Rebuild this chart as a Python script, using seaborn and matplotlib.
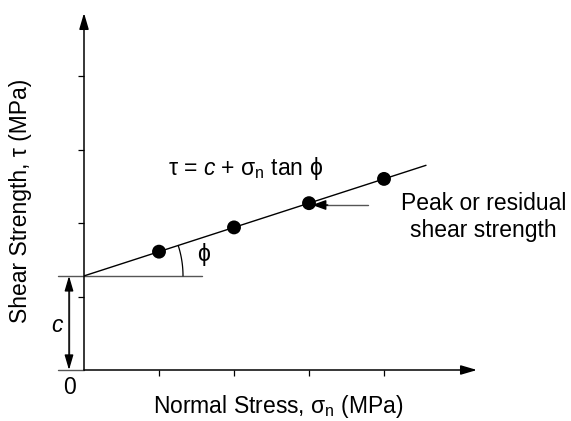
import numpy as np
import pandas as pd
import matplotlib
matplotlib.use("Agg")
import matplotlib.pyplot as plt
import seaborn as sns

# Mohr-Coulomb failure envelope: tau = c + sigma_n * tan(phi)
normal_stress = [1, 2, 3, 4]                  # sigma_n at each test
shear_strength = [1.61, 1.94, 2.27, 2.60]     # measured peak/residual tau
cohesion = 1.28                               # intercept c
tan_phi = 0.33                                # slope of the envelope
envelope_end = 4.56                           # sigma_n where the drawn envelope stops
tick_positions = [1, 2, 3, 4]

sns.set_theme(style="white")
plt.rcParams["font.family"] = ["Liberation Sans", "DejaVu Sans"]
plt.rcParams["text.color"] = "black"
plt.rcParams["mathtext.fontset"] = "custom"
plt.rcParams["mathtext.rm"] = "Liberation Sans"
plt.rcParams["mathtext.it"] = "Liberation Sans:italic"
plt.rcParams["mathtext.default"] = "regular"

W, H = 571, 421
fig = plt.figure(figsize=(W / 100, H / 100), dpi=100)

# pixel geometry of the axes
x0_px, y0_px = 84, 370
px_per_x, px_per_y = 75.0, 73.5
ax = fig.add_axes([x0_px / W, (H - y0_px) / H, (W - x0_px) / W, (y0_px - 5) / H])
ax.set_xlim(0, (W - x0_px) / px_per_x)
ax.set_ylim(0, (y0_px - 5) / px_per_y)
for s in ax.spines.values():
    s.set_visible(False)
ax.set_facecolor("none")

ax.set_xticks(tick_positions)
ax.set_yticks(tick_positions)
ax.set_xticklabels([])
ax.set_yticklabels([])
ax.tick_params(direction="out", length=4, width=0.9, color="black",
               bottom=True, left=True)

# axes drawn as arrows
arrow_kw = dict(arrowstyle="-|>,head_length=0.75,head_width=0.22", color="black",
                lw=1.1, mutation_scale=13, shrinkA=0, shrinkB=0)
ax.annotate("", xy=(5.24, 0), xytext=(0, 0), arrowprops=arrow_kw, annotation_clip=False)
ax.annotate("", xy=(0, (y0_px - 13) / px_per_y), xytext=(0, 0), arrowprops=arrow_kw,
            annotation_clip=False)

# failure envelope
env = pd.DataFrame({"sigma": [0, envelope_end]})
env["tau"] = cohesion + tan_phi * env["sigma"]
sns.lineplot(data=env, x="sigma", y="tau", color="black", lw=1.0, ax=ax, zorder=2)

# test results
pts = pd.DataFrame({"sigma": normal_stress, "tau": shear_strength})
sns.scatterplot(data=pts, x="sigma", y="tau", color="black", s=100, edgecolor="none",
                ax=ax, zorder=3, legend=False)
ax.set_xlabel("")
ax.set_ylabel("")

gray = "#555555"
# horizontal reference at the intercept, and the dimension line for c
x_dim_left = -26 / px_per_x
ax.plot([x_dim_left, 118 / px_per_x], [cohesion, cohesion], color=gray, lw=1.0,
        clip_on=False, zorder=1)
ax.plot([x_dim_left, 0], [0, 0], color=gray, lw=1.0, clip_on=False, zorder=1)
x_dim = -15 / px_per_x
dim_kw = dict(arrowstyle="<|-|>,head_length=0.75,head_width=0.22", color="black", lw=1.0,
              mutation_scale=12, shrinkA=0, shrinkB=0)
ax.annotate("", xy=(x_dim, 0), xytext=(x_dim, cohesion), arrowprops=dim_kw,
            annotation_clip=False)
ax.plot([x_dim, x_dim], [0.12, cohesion - 0.12], color=gray, lw=1.0, clip_on=False,
        zorder=2)

# friction angle arc
ang = np.arctan(tan_phi * px_per_y / px_per_x)
t = np.linspace(0, ang, 60)
r_px = 99
ax.plot(r_px * np.cos(t) / px_per_x, cohesion + r_px * np.sin(t) / px_per_y,
        color="black", lw=0.9, zorder=2)

fs = 16.5
ax.text(1.6, 1.565, "ϕ", fontsize=fs, ha="center", va="center")
ax.text(2.16, 2.735, r"τ = $\mathit{c}$ + $\sigma_{n}$ tan ϕ", fontsize=fs,
        ha="center", va="center")

# callout to the third point
ax.plot([3.787, 3.2], [2.245, 2.245], color=gray, lw=1.0, zorder=1)
ax.annotate("", xy=(3.04, 2.245), xytext=(3.25, 2.245),
            arrowprops=dict(arrowstyle="-|>,head_length=0.7,head_width=0.25",
                            color="black", lw=1.0, mutation_scale=12,
                            shrinkA=0, shrinkB=0))
ax.text(5.33, 2.08, "Peak or residual\nshear strength", fontsize=fs, ha="center",
        va="center", linespacing=1.2)

# labels
fig.text(69 / W, 1 - 388 / H, "0", fontsize=fs, ha="center", va="center")
fig.text(57 / W, 1 - 325 / H, "c", fontsize=fs, style="italic", ha="center", va="center")
fig.text(21 / W, 1 - 201 / H, r"Shear Strength, τ (MPa)", fontsize=fs, rotation=90,
         ha="center", va="center")
fig.text(278 / W, 1 - 413 / H, r"Normal Stress, $\sigma_{n}$ (MPa)", fontsize=fs,
         ha="center", va="baseline")

fig.savefig("out.png", dpi=100, facecolor="white")
